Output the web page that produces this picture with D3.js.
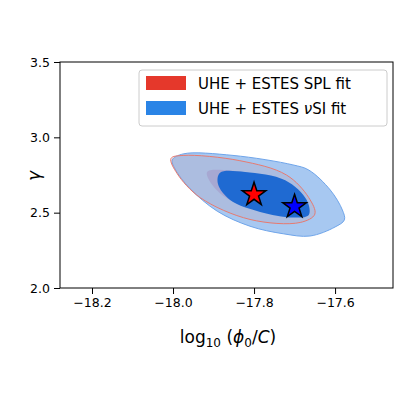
<!DOCTYPE html>
<html><head><meta charset="utf-8">
<script src="https://cdn.jsdelivr.net/npm/d3@7"></script>
<style>body{margin:0;background:#fff}text{font-family:"DejaVu Sans",sans-serif}</style>
</head><body>
<svg id="c" width="400" height="400"></svg>
<script>
// contour outlines in data units (log10 phi, gamma)
const blueOuter = [[-18.002,2.850],[-17.975,2.890],[-17.852,2.880],[-17.704,2.817],[-17.665,2.783],[-17.612,2.651],[-17.582,2.518],[-17.577,2.452],[-17.600,2.405],[-17.662,2.345],[-17.728,2.360],[-17.810,2.410],[-17.891,2.510],[-17.958,2.660],[-17.995,2.790]];
const redOuter = [[-18.005,2.860],[-17.975,2.880],[-17.835,2.845],[-17.720,2.750],[-17.665,2.600],[-17.650,2.490],[-17.686,2.435],[-17.810,2.455],[-17.933,2.600],[-17.990,2.760]];
const redInner = [[-17.916,2.770],[-17.859,2.780],[-17.760,2.725],[-17.695,2.617],[-17.690,2.518],[-17.736,2.498],[-17.835,2.551],[-17.896,2.660]];
const blueInner = [[-17.884,2.765],[-17.822,2.770],[-17.723,2.715],[-17.670,2.584],[-17.665,2.485],[-17.705,2.468],[-17.785,2.505],[-17.859,2.584],[-17.889,2.690]];
const bestSPL = [-17.80, 2.62];
const bestNuSI = [-17.70, 2.54];
const xTicks = [-18.2, -18.0, -17.8, -17.6];
const yTicks = [2.0, 2.5, 3.0, 3.5];

const svg = d3.select("#c");
const x = d3.scaleLinear().domain([-18.279, -17.457]).range([60, 393]);
const y = d3.scaleLinear().domain([2.0, 3.5]).range([288, 62]);
const line = d3.line().x(d => x(d[0])).y(d => y(d[1])).curve(d3.curveCatmullRomClosed.alpha(0.5));

svg.append("path").attr("d", line(blueOuter)).attr("fill", "#a7c8f1").attr("stroke", "#6fa5ea").attr("stroke-width", 1);
svg.append("path").attr("d", line(redOuter)).attr("fill", "#c88080").attr("fill-opacity", 0.15).attr("stroke", "#e77a70").attr("stroke-width", 1);
svg.append("path").attr("d", line(redInner)).attr("fill", "#a7a8d2");
svg.append("path").attr("d", line(blueInner)).attr("fill", "#1f6ad2");

const star = d3.symbol().type(d3.symbolStar).size(170);
[[bestSPL, "#ff0000"], [bestNuSI, "#0000ff"]].forEach(([p, c]) => {
  svg.append("path").attr("d", star()).attr("transform", `translate(${x(p[0])},${y(p[1])})`)
    .attr("fill", c).attr("stroke", "#000").attr("stroke-width", 1.5).attr("stroke-linejoin", "miter");
});

svg.append("g").attr("transform", "translate(0,288)")
  .call(d3.axisBottom(x).tickValues(xTicks).tickSizeOuter(0).tickPadding(4).tickFormat(d => d3.format(".1f")(d).replace("-", "\u2212")));
svg.append("g").attr("transform", "translate(60,0)")
  .call(d3.axisLeft(y).tickValues(yTicks).tickSizeOuter(0).tickPadding(4).tickFormat(d3.format(".1f")));
svg.selectAll(".tick text").attr("font-size", 12.5).attr("fill", "#000").style("font-family", "DejaVu Sans");
svg.selectAll(".domain").remove();
svg.append("rect").attr("x", 60).attr("y", 62).attr("width", 333).attr("height", 226).attr("fill", "none").attr("stroke", "#000");

svg.append("text").attr("x", 228).attr("y", 343).attr("text-anchor", "middle").attr("font-size", 17)
  .html('log<tspan font-size="12" dy="4">10</tspan><tspan dy="-4"> (</tspan><tspan font-style="italic">ϕ</tspan><tspan font-size="12" dy="4">0</tspan><tspan dy="-4">/</tspan><tspan font-style="italic">C</tspan>)');
svg.append("text").attr("transform", "translate(40,176) rotate(-90)").attr("text-anchor", "middle").attr("font-size", 17).attr("font-style", "italic").text("γ");

const lg = svg.append("g");
lg.append("rect").attr("x", 139).attr("y", 70).attr("width", 248).attr("height", 56).attr("rx", 3)
  .attr("fill", "#fff").attr("fill-opacity", 0.8).attr("stroke", "#ccc");
const legend = [["#e5382b", "UHE + ESTES SPL fit"], ["#2a84e6", "UHE + ESTES <tspan font-style='italic'>ν</tspan>SI fit"]];
legend.forEach((d, i) => {
  lg.append("rect").attr("x", 146).attr("y", 76 + i * 25).attr("width", 40).attr("height", 14).attr("fill", d[0]);
  lg.append("text").attr("x", 198).attr("y", 89 + i * 25).attr("font-size", 15).html(d[1]);
});
</script>
</body></html>
